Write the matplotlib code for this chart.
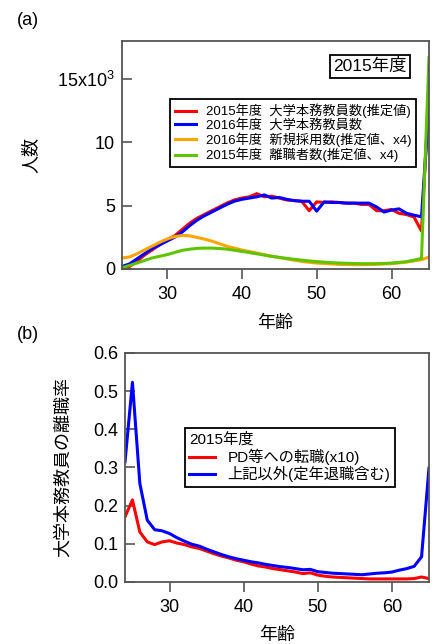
import numpy as np
import matplotlib
matplotlib.use("Agg")
import matplotlib.pyplot as plt
from matplotlib.ticker import FuncFormatter

plt.rcParams['font.family'] = ['Liberation Sans', 'Noto Sans CJK JP', 'DejaVu Sans']
plt.rcParams['mathtext.default'] = 'regular'

ages = list(range(24, 66))

# panel (a): counts in thousands
staff_2015 = [0.0, 0.2, 0.6, 1.1, 1.5, 1.9, 2.3, 2.6, 3.1, 3.6, 4.0, 4.3, 4.6, 4.9, 5.2, 5.45,
              5.6, 5.7, 5.95, 5.7, 5.75, 5.6, 5.45, 5.4, 5.35, 4.6, 5.3, 5.25, 5.3, 5.25, 5.2,
              5.2, 5.1, 5.1, 4.6, 4.6, 4.7, 4.4, 4.3, 4.1, 3.0, 13.9]
staff_2016 = [0.2, 0.4, 0.8, 1.2, 1.6, 1.9, 2.2, 2.5, 2.9, 3.4, 3.85, 4.2, 4.5, 4.8, 5.1, 5.35,
              5.5, 5.6, 5.7, 5.85, 5.6, 5.65, 5.5, 5.4, 5.35, 5.35, 4.57, 5.3, 5.25, 5.25, 5.2,
              5.2, 5.2, 5.2, 4.9, 4.5, 4.65, 4.75, 4.4, 4.25, 4.12, 12.9]
hires_2016 = [0.87, 0.95, 1.2, 1.5, 1.8, 2.1, 2.36, 2.55, 2.65, 2.62, 2.5, 2.36, 2.2, 2.0, 1.8,
              1.65, 1.5, 1.38, 1.26, 1.13, 1.0, 0.9, 0.8, 0.7, 0.6, 0.53, 0.47, 0.43, 0.4, 0.37,
              0.35, 0.34, 0.34, 0.35, 0.37, 0.4, 0.42, 0.48, 0.55, 0.64, 0.73, 0.95]
leavers_2015 = [0.1, 0.28, 0.47, 0.67, 0.87, 1.0, 1.13, 1.3, 1.47, 1.56, 1.63, 1.65, 1.65, 1.62,
                1.57, 1.48, 1.39, 1.3, 1.2, 1.1, 1.0, 0.92, 0.84, 0.77, 0.7, 0.64, 0.58, 0.54,
                0.5, 0.47, 0.45, 0.43, 0.42, 0.42, 0.42, 0.44, 0.47, 0.52, 0.58, 0.7, 0.84, 16.7]

# panel (b): turnover rates
rate_pd = [0.171, 0.215, 0.131, 0.105, 0.098, 0.105, 0.108, 0.102, 0.098, 0.092, 0.088, 0.081,
           0.074, 0.068, 0.063, 0.057, 0.053, 0.047, 0.042, 0.039, 0.035, 0.032, 0.029, 0.026,
           0.022, 0.024, 0.018, 0.015, 0.013, 0.012, 0.011, 0.010, 0.009, 0.008, 0.008, 0.008,
           0.008, 0.008, 0.008, 0.009, 0.013, 0.009]
rate_other = [0.315, 0.523, 0.258, 0.162, 0.137, 0.134, 0.127, 0.116, 0.107, 0.099, 0.094, 0.086,
              0.079, 0.072, 0.066, 0.061, 0.057, 0.053, 0.050, 0.046, 0.043, 0.040, 0.038, 0.035,
              0.032, 0.033, 0.027, 0.025, 0.023, 0.022, 0.021, 0.020, 0.019, 0.021, 0.023, 0.024,
              0.026, 0.031, 0.035, 0.041, 0.066, 0.298]

labels_a = ['2015年度  大学本務教員数(推定値)', '2016年度  大学本務教員数',
            '2016年度  新規採用数(推定値、x4)', '2015年度  離職者数(推定値、x4)']
labels_b = ['PD等への転職(x10)', '上記以外(定年退職含む)']

RED, BLUE, ORANGE, GREEN = '#ff0000', '#0000ff', '#ffa500', '#5ec400'
SPINE = '#555555'


def style_axes(ax):
    for s in ax.spines.values():
        s.set_color(SPINE)
        s.set_linewidth(1.3)
    ax.tick_params(axis='x', direction='out', length=7, width=1.2, color=SPINE, labelsize=13, pad=5)
    ax.tick_params(axis='y', direction='in', length=7, width=1.2, color=SPINE, labelsize=13, pad=5)
    ax.set_xlim(24, 65)
    ax.set_xticks([30, 40, 50, 60])


fig = plt.figure(figsize=(4.32, 6.44), dpi=100)

# (a)
ax1 = fig.add_axes([0.2824, 0.5823, 0.7106, 0.354])
ages_arr = np.array(ages)
ax1.plot(ages_arr, np.array(staff_2015) * 1000, color=RED, lw=2.2, label=labels_a[0])
ax1.plot(ages_arr, np.array(staff_2016) * 1000, color=BLUE, lw=2.2, label=labels_a[1])
ax1.plot(ages_arr, np.array(hires_2016) * 1000, color=ORANGE, lw=2.2, label=labels_a[2])
ax1.plot(ages_arr, np.array(leavers_2015) * 1000, color=GREEN, lw=2.2, label=labels_a[3])
style_axes(ax1)
ax1.set_ylim(0, 18000)
ax1.set_yticks([0, 5000, 10000, 15000])
ax1.yaxis.set_major_formatter(FuncFormatter(
    lambda v, p: '$15x10^{3}$' if v == 15000 else f'{int(v / 1000)}'))
ax1.set_xlabel('年齢', fontsize=13)
ax1.set_ylabel('人数', fontsize=13)
ax1.xaxis.set_label_coords(0.5, -0.2)
ax1.yaxis.set_label_coords(-0.27, 0.5)
leg1 = ax1.legend(loc='upper left', bbox_to_anchor=(0.156, 0.746), borderaxespad=0,
                  fontsize=9.5, handlelength=1.6, handletextpad=0.8, labelspacing=0.05,
                  borderpad=0.35, fancybox=False, framealpha=1)
leg1.get_frame().set_edgecolor('black')
leg1.get_frame().set_linewidth(1.3)
ax1.text(0.808, 0.89, '2015年度', transform=ax1.transAxes, fontsize=12.5, ha='center',
         va='center', bbox=dict(boxstyle='square,pad=0.2', fc='white', ec='black', lw=1.3))
fig.text(0.039, 0.981, '(a)', fontsize=13, va='top')

# (b)
ax2 = fig.add_axes([0.2894, 0.0963, 0.7036, 0.3556])
ax2.plot(ages, rate_pd, color=RED, lw=2.2, label=labels_b[0])
ax2.plot(ages, rate_other, color=BLUE, lw=2.2, label=labels_b[1])
style_axes(ax2)
ax2.set_ylim(0, 0.6)
ax2.set_yticks([0.0, 0.1, 0.2, 0.3, 0.4, 0.5, 0.6])
ax2.yaxis.set_major_formatter(FuncFormatter(lambda v, p: f'{v:.1f}'))
ax2.set_xlabel('年齢', fontsize=13)
ax2.set_ylabel('大学本務教員の離職率', fontsize=13)
ax2.xaxis.set_label_coords(0.5, -0.197)
ax2.yaxis.set_label_coords(-0.174, 0.5)
leg2 = ax2.legend(loc='upper left', bbox_to_anchor=(0.197, 0.672), borderaxespad=0,
                  title='2015年度', title_fontsize=11, fontsize=11, alignment='left',
                  handlelength=1.7, handletextpad=0.8, labelspacing=0.1, borderpad=0.3,
                  fancybox=False, framealpha=1)
leg2.get_frame().set_edgecolor('black')
leg2.get_frame().set_linewidth(1.3)
fig.text(0.039, 0.494, '(b)', fontsize=13, va='top')

fig.savefig('out.png', dpi=100)
